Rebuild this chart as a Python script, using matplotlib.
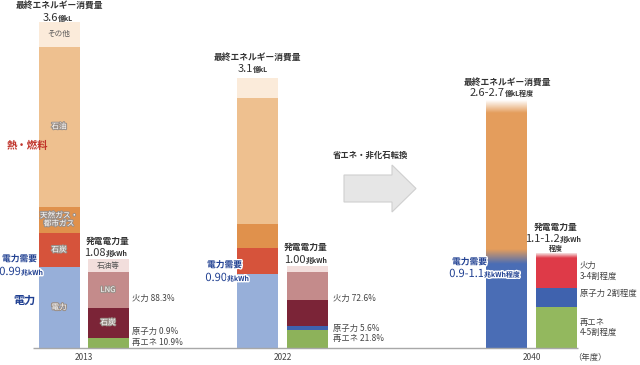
import numpy as np
import matplotlib.pyplot as plt
from matplotlib.patches import Polygon
import matplotlib.patheffects as pe

plt.rcParams['font.family'] = ['Noto Sans CJK JP', 'DejaVu Sans']

# 最終エネルギー消費量の内訳（億kL換算、下から）
cons_labels = ['電力', '石炭', '天然ガス・\n都市ガス', '石油', 'その他']
cons_2013 = [0.90, 0.38, 0.29, 1.78, 0.27]
cons_2022 = [0.82, 0.29, 0.27, 1.40, 0.22]
cons_2040 = [1.01, 1.74]  # 電力, 熱・燃料

# 発電電力量（兆kWh）と電源構成（%、下から）
gen_total = [1.08, 1.00, 1.15]
gen_labels = ['再エネ', '原子力', '石炭', 'LNG', '石油等']
gen_2013 = [10.9, 0.9, 33.5, 40.3, 14.5]
gen_2022 = [21.8, 5.6, 31.3, 34.0, 7.3]
gen_2040 = [44, 20, 36]  # 再エネ, 原子力, 火力
KWH_TO_KL = 0.911  # 兆kWh -> 図の縦軸

years = ['2013', '2022', '2040']

cons_colors = ['#97AFD9', '#D6533B', '#E0914C', '#EEC08F', '#FBEBDA']
gen_colors = ['#8DB25A', '#3F62AE', '#7B2437', '#C48B8B', '#F2DEDC']
c40_blue, c40_orange = '#4A6DB5', '#E49D5C'
gen40_colors = ['#93B85E', '#3F62AE', '#DE3A48']

TXT = '#333333'
NAVY = '#1F3F91'
RED = '#C0332A'


def yp(px):
    # 画像上の行 -> データ座標
    return (348 - px) / 90


fig = plt.figure(figsize=(6.4, 3.65), dpi=100)
ax = fig.add_axes([0, 0, 1, 1])
W = 41

def stack(x, vals, colors):
    bottom = 0
    tops = []
    for v, c in zip(vals, colors):
        ax.bar(x, v, W, bottom=bottom, color=c, linewidth=0)
        tops.append((bottom, bottom + v))
        bottom += v
    return tops

# 2013
seg13 = stack(59, cons_2013, cons_colors)
g13 = [s / 100 * gen_total[0] * KWH_TO_KL for s in gen_2013]
gseg13 = stack(108, g13, gen_colors)
# 2022
seg22 = stack(257.5, cons_2022, cons_colors)
g22 = [s / 100 * gen_total[1] * KWH_TO_KL for s in gen_2022]
gseg22 = stack(307.5, g22, gen_colors)
# 2040
seg40 = stack(506.5, cons_2040, [c40_blue, c40_orange])
g40 = [s / 100 * gen_total[2] * KWH_TO_KL for s in gen_2040]
gseg40 = stack(556.5, g40, gen40_colors)

# 2040 のグラデーション
def vgrad(x, y0, y1, c0, c1, a0=1, a1=1):
    from matplotlib.colors import to_rgb
    n = 64
    t = np.linspace(0, 1, n)[:, None]
    r0, r1 = np.array(to_rgb(c0)), np.array(to_rgb(c1))
    rgb = r0 * (1 - t) + r1 * t
    a = a0 * (1 - t) + a1 * t
    img = np.concatenate([rgb, a], axis=1)[:, None, :]
    ax.imshow(img, extent=(x - W / 2, x + W / 2, y0, y1), origin='lower',
              aspect='auto', zorder=3, interpolation='bilinear')

mid = cons_2040[0]
vgrad(506.5, mid - 0.08, mid + 0.08, c40_blue, c40_orange)
top40 = sum(cons_2040)
vgrad(506.5, top40 - 0.14, top40, c40_orange, '#FFFFFF')
gtop40 = sum(g40)
vgrad(556.5, gtop40 - 0.05, gtop40, gen40_colors[2], '#F6E6E6')

# 基準線
ax.hlines(0, 33, 578, color='#A8A8A8', lw=1, zorder=4)

# 棒の中のラベル
inner_white = [pe.withStroke(linewidth=1.5, foreground='#9A8F88')]
for (b, t), lab, c in zip(seg13, cons_labels, ['w', 'w', 'w', 'w', 'd']):
    ax.text(59, (b + t) / 2, lab, ha='center', va='center', fontsize=5.5,
            linespacing=1.0,
            color='white' if c == 'w' else '#555555',
            path_effects=inner_white if c == 'w' else None)
for (b, t), lab, c in zip(gseg13[2:], gen_labels[2:], ['w', 'w', 'd']):
    ax.text(108, (b + t) / 2, lab, ha='center', va='center', fontsize=5.5,
            color='white' if c == 'w' else '#555555',
            path_effects=inner_white if c == 'w' else None)


def num_unit(xr, ypx, num, unit, color, nsize=8, usize=5, stroke=False):
    eff = [pe.withStroke(linewidth=2, foreground='white')] if stroke else None
    t = ax.text(xr, yp(ypx), num, ha='right', va='baseline', fontsize=nsize,
                color=color, path_effects=eff)
    ax.annotate(unit, xy=(1, 0.08), xycoords=t, ha='left', va='bottom',
                fontsize=usize, color=color, fontweight='bold',
                path_effects=eff)


def title(x, ypx, s, color=TXT, size=6.3, ha='center', stroke=False):
    eff = [pe.withStroke(linewidth=2, foreground='white')] if stroke else None
    ax.text(x, yp(ypx), s, ha=ha, va='center', fontsize=size,
            fontweight='bold', color=color, path_effects=eff)

# 最終エネルギー消費量
title(59, 5, '最終エネルギー消費量')
num_unit(58, 21, '3.6', '億kL', TXT)
title(257, 57, '最終エネルギー消費量')
num_unit(253, 72, '3.1', '億kL', TXT)
title(507, 82, '最終エネルギー消費量')
num_unit(505, 96, '2.6-2.7', '億kL程度', TXT)

# 発電電力量
title(108, 241, '発電電力量')
num_unit(106, 256, '1.08', '兆kWh', TXT)
title(306, 247, '発電電力量')
num_unit(306, 263, '1.00', '兆kWh', TXT)
title(556, 227, '発電電力量')
num_unit(560, 242, '1.1-1.2', '兆kWh', TXT)
title(556, 248, '程度', size=5)

# 電力需要
title(2, 259, '電力需要', color=NAVY, ha='left', stroke=True)
num_unit(21, 275, '0.99', '兆kWh', NAVY, stroke=True)
title(207, 265, '電力需要', color=NAVY, ha='left', stroke=True)
num_unit(227, 281, '0.90', '兆kWh', NAVY, stroke=True)
title(452, 262, '電力需要', color=NAVY, ha='left', stroke=True)
num_unit(484, 277, '0.9-1.1', '兆kWh程度', NAVY, stroke=True)

title(27, 146, '熱・燃料', color=RED, size=7.5)
title(24, 300, '電力', color=NAVY, size=8)

# 電源構成ラベル
side = dict(ha='left', va='center', fontsize=6, color='#444444')
fire13 = (gseg13[2][0] + gseg13[4][1]) / 2
ax.text(132, fire13, f'火力 {sum(gen_2013[2:]):.1f}%', **side)
ax.text(132, yp(331), f'原子力 {gen_2013[1]}%', **side)
ax.text(132, yp(343), f'再エネ {gen_2013[0]}%', **side)
fire22 = (gseg22[2][0] + gseg22[4][1]) / 2
ax.text(333, fire22 - 0.03, f'火力 {sum(gen_2022[2:]):.1f}%', **side)
ax.text(333, yp(328), f'原子力 {gen_2022[1]}%', **side)
ax.text(333, yp(339), f'再エネ {gen_2022[0]}%', **side)
ax.text(580, sum(gseg40[2]) / 2, '火力\n3-4割程度', linespacing=1.2, **side)
ax.text(580, sum(gseg40[1]) / 2 + 0.04, '原子力 2割程度', **side)
ax.text(580, sum(gseg40[0]) / 2, '再エネ\n4-5割程度', linespacing=1.2, **side)

# 年度
for x, yr in zip([83.5, 282.5, 531.5], years):
    ax.text(x, yp(358), yr, ha='center', va='center', fontsize=6, color='#444444')
ax.text(590, yp(357), '（年度）', ha='center', va='center', fontsize=6, color='#444444')

# 矢印
arrow = [(344, yp(175)), (392, yp(175)), (392, yp(165)), (416, yp(188.5)),
         (392, yp(212)), (392, yp(202)), (344, yp(202))]
ax.add_patch(Polygon(arrow, closed=True, facecolor='#E6E6E6',
                     edgecolor='#CFCFCF', lw=0.8))
title(371, 155, '省エネ・非化石転換', size=6)

ax.set_xlim(0, 640)
ax.set_ylim(yp(365), yp(0))
ax.axis('off')

plt.savefig('out.png', dpi=100)
